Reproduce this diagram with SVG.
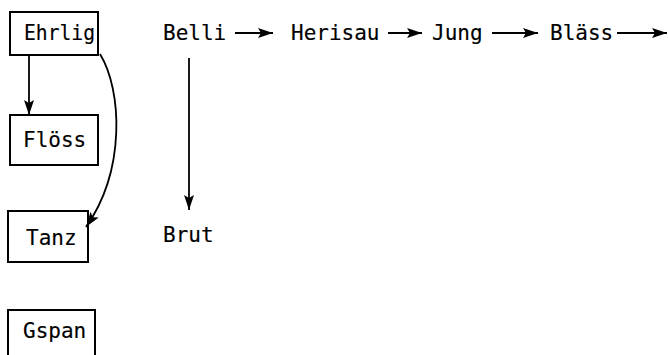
<svg xmlns="http://www.w3.org/2000/svg" width="668" height="355" viewBox="0 0 668 355">
<style>
.box{fill:none;stroke:#000;stroke-width:2}
.t{font-family:"DejaVu Sans Mono","Liberation Mono",monospace;font-size:21px;fill:#000;stroke:#000;stroke-width:0.15}
.c{fill:none;stroke:#000;stroke-width:1.8}
</style>
<defs>
<marker id="ah" markerUnits="userSpaceOnUse" markerWidth="16" markerHeight="12" refX="15" refY="6" orient="auto">
<path d="M0,1 L15,6 L0,11 L3,6 z" fill="#000"/>
</marker>
</defs>
<g id="Ehrlig"><rect class="box" x="10" y="12" width="88" height="43"/><text class="t" x="24" y="40" textLength="71" lengthAdjust="spacingAndGlyphs">Ehrlig</text></g>
<g id="Floess"><rect class="box" x="10" y="115" width="88" height="50"/><text class="t" x="23" y="147">Flöss</text></g>
<g id="Tanz"><rect class="box" x="8" y="211" width="80" height="51"/><text class="t" x="26" y="245">Tanz</text></g>
<g id="Gspan"><rect class="box" x="8" y="310" width="87" height="60"/><text class="t" x="23" y="338">Gspan</text></g>
<g id="Belli"><text class="t" x="163" y="40">Belli</text></g>
<g id="Herisau"><text class="t" x="291" y="40">Herisau</text></g>
<g id="Jung"><text class="t" x="432" y="40">Jung</text></g>
<g id="Blaess"><text class="t" x="550" y="40">Bläss</text></g>
<g id="Brut"><text class="t" x="163" y="242">Brut</text></g>
<g id="connectors">
<path class="c" d="M29,55 L29,115" marker-end="url(#ah)"/>
<path class="c" d="M100,54 C122,90 126,170 86,227" marker-end="url(#ah)"/>
<path class="c" d="M189,58 L189,210" marker-end="url(#ah)"/>
<path class="c" d="M235,33 L273,33" marker-end="url(#ah)"/>
<path class="c" d="M388,33 L422,33" marker-end="url(#ah)"/>
<path class="c" d="M492,33 L538,33" marker-end="url(#ah)"/>
<path class="c" d="M617,33 L667,33" marker-end="url(#ah)"/>
</g>
</svg>
